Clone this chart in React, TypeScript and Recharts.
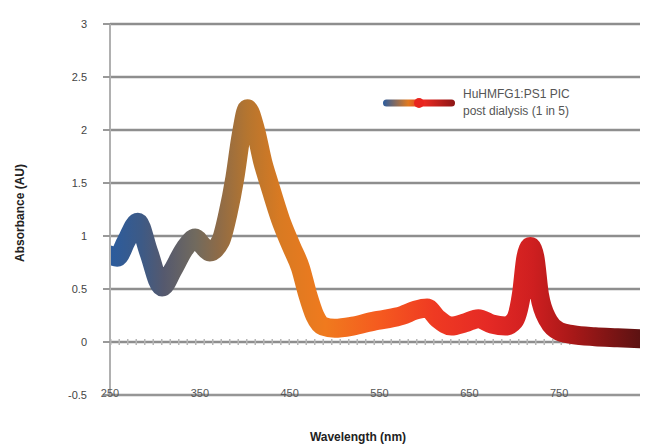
import { LineChart, Line, XAxis, YAxis, CartesianGrid, ReferenceLine } from 'recharts';

const wavelengths = [
  250, 258, 268, 281, 293, 308, 320, 333, 345, 352, 361, 373, 381, 389, 396, 403,
  412, 420, 427, 440, 452, 462, 470, 478, 487, 500, 520, 545, 560, 575, 590, 603,
  615, 630, 645, 660, 675, 690, 700, 708, 713, 718, 723, 728, 738, 750, 765, 790,
  815, 840,
];
const absorbance = [
  0.82, 0.8, 0.95, 1.13, 0.85, 0.52, 0.68, 0.88, 0.98, 0.92, 0.85, 0.95, 1.2, 1.55, 1.95, 2.2,
  2.0, 1.7, 1.5, 1.15, 0.9, 0.7, 0.45, 0.25, 0.15, 0.13, 0.15, 0.2, 0.22, 0.25, 0.3, 0.32,
  0.22, 0.15, 0.18, 0.22, 0.17, 0.15, 0.2, 0.45, 0.8, 0.9, 0.8, 0.45, 0.2, 0.1, 0.07, 0.05,
  0.04, 0.03,
];
const xTicks = [250, 350, 450, 550, 650, 750];
const yTicks = [-0.5, 0, 0.5, 1, 1.5, 2, 2.5, 3];
const seriesName = ['HuHMFG1:PS1 PIC', 'post dialysis (1 in 5)'];

const data = wavelengths.map((w, i) => ({ nm: w, abs: absorbance[i] }));

// colour stops along the spectrum, as nm -> colour
const gradStops: [number, string][] = [
  [250, '#2b5c9e'],
  [285, '#3d5a86'],
  [310, '#55596e'],
  [345, '#716a5e'],
  [370, '#8d6b48'],
  [403, '#b5752f'],
  [440, '#d97a22'],
  [490, '#f07a1e'],
  [550, '#f55a1f'],
  [610, '#ef3a22'],
  [670, '#e52a25'],
  [720, '#cf1f20'],
  [765, '#a81818'],
  [840, '#5c1212'],
];

const font = '"Liberation Sans", Arial, sans-serif';

function XTick({ x, y, payload }: any) {
  return (
    <text x={x} y={y - 2} textAnchor="middle" dominantBaseline="central" fontSize={11} fill="#555" fontFamily={font}>
      {payload.value}
    </text>
  );
}

function LegendBox() {
  return (
    <div style={{ display: 'flex', alignItems: 'center', fontFamily: font, fontSize: 12, color: '#555', lineHeight: '17px' }}>
      <svg width={76} height={14} style={{ marginRight: 6 }}>
        <defs>
          <linearGradient id="legGrad" x1="0" y1="0" x2="1" y2="0">
            <stop offset="0" stopColor="#2b5c9e" />
            <stop offset="0.35" stopColor="#e07a20" />
            <stop offset="0.55" stopColor="#ef2a22" />
            <stop offset="1" stopColor="#8c1616" />
          </linearGradient>
        </defs>
        <rect x={2} y={3.5} width={72} height={7} rx={3.5} fill="url(#legGrad)" />
        <circle cx={38} cy={7} r={5} fill="#e8241e" />
      </svg>
      <div>
        <div>{seriesName[0]}</div>
        <div>{seriesName[1]}</div>
      </div>
    </div>
  );
}

export default function App() {
  return (
    <div style={{ width: 649, height: 446, position: 'relative', background: '#fff' }}>
      <style>{'body{margin:0}'}</style>
      <LineChart width={649} height={446} data={data} margin={{ top: 24, right: 9, bottom: 21, left: 70 }}>
        <defs>
          <linearGradient id="specGrad" x1="0" y1="0" x2="1" y2="0">
            {gradStops.map(([nm, c]) => (
              <stop key={nm} offset={(nm - 250) / 590} stopColor={c} />
            ))}
          </linearGradient>
        </defs>
        <CartesianGrid vertical={false} stroke="#8e8e8e" strokeWidth={2.5} />
        <XAxis
          dataKey="nm"
          type="number"
          domain={[250, 840]}
          ticks={xTicks}
          height={30}
          tickSize={0}
          tickMargin={0}
          tick={<XTick />}
          axisLine={{ stroke: '#999', strokeWidth: 1.5 }}
          tickLine={false}
          allowDataOverflow
        />
        <YAxis
          type="number"
          domain={[-0.5, 3]}
          ticks={yTicks}
          width={40}
          tickSize={7}
          tickMargin={16}
          axisLine={{ stroke: '#b0b0b0', strokeWidth: 2 }}
          tickLine={{ stroke: '#999', strokeWidth: 2 }}
          tick={{ fontSize: 11, fill: '#444', fontFamily: font }}
        />
        <ReferenceLine y={0} stroke="#b5b5b5" strokeWidth={6} strokeDasharray="1.5 7" />
        <Line
          type="monotone"
          dataKey="abs"
          stroke="url(#specGrad)"
          strokeWidth={19}
          strokeLinecap="round"
          strokeLinejoin="round"
          dot={false}
          isAnimationActive={false}
        />
      </LineChart>
      <div style={{ position: 'absolute', top: 86, left: 381, width: 250 }}>
        <LegendBox />
      </div>
      <div
        style={{
          position: 'absolute', left: 20, top: 213, transform: 'translate(-50%, -50%) rotate(-90deg)',
          fontFamily: font, fontWeight: 'bold', fontSize: 12, color: '#222', whiteSpace: 'nowrap',
        }}
      >
        Absorbance (AU)
      </div>
      <div
        style={{
          position: 'absolute', left: 358, top: 437, transform: 'translate(-50%, -50%)',
          fontFamily: font, fontWeight: 'bold', fontSize: 12, color: '#222', whiteSpace: 'nowrap',
        }}
      >
        Wavelength (nm)
      </div>
    </div>
  );
}
